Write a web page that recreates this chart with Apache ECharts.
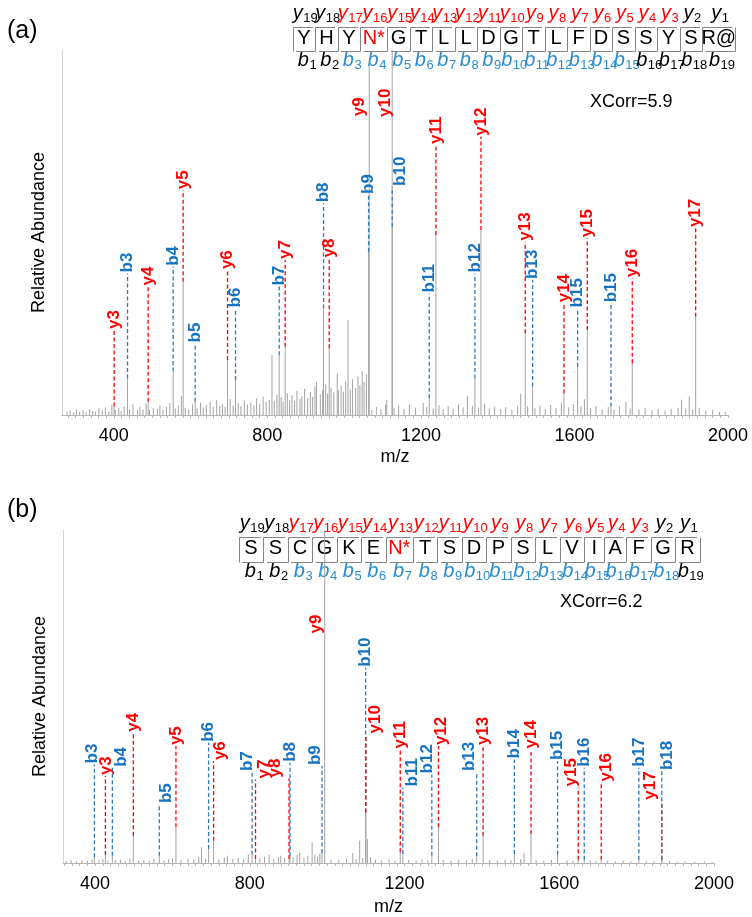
<!DOCTYPE html>
<html>
<head>
<meta charset="utf-8">
<script src="https://cdn.jsdelivr.net/npm/echarts@6/dist/echarts.min.js"></script>
<style>
  html, body { margin: 0; padding: 0; background: #fff; }
  #main { width: 752px; height: 917px; }
</style>
</head>
<body>
<div id="main"></div>
<script>
// ---------- data ----------
const tickLabels = [400, 800, 1200, 1600, 2000];

// peptide sequences
const seqA = ['Y','H','Y','N*','G','T','L','L','D','G','T','L','F','D','S','S','Y','S','R@'];
const seqB = ['S','S','C','G','K','E','N*','T','S','D','P','S','L','V','I','A','F','G','R'];

// panel (a) annotated fragment ions
const ionNameA = ['y3','b3','y4','b4','y5','b5','y6','b6','b7','y7','b8','y8','b9','y9','b10','y10','b11','y11','b12','y12','y13','b13','y14','b15','y15','b15','y16','y17'];
const ionMzA   = [400.8,435.7,489.5,554.6,580.6,611.9,696.3,717.1,830.8,846.4,946.4,961.1,1063.7,1065.3,1125.2,1125.2,1221.7,1239.1,1340.7,1356.4,1471.8,1491.0,1572.6,1608.3,1633.4,1695.1,1750.6,1915.8];
const ionIntA  = [2.3,10.0,3.6,11.9,36.5,3.6,15.1,9.6,16.4,18.7,29.2,18.3,44.7,97,51.6,100,4.6,49.3,10.0,50.7,22.4,7.8,5.9,13.2,23.3,2.3,14.2,26.9];
const ionLabA  = [23.3,38.8,35.2,40.6,61.6,19.6,39.7,29.2,35.2,42.5,58.0,42.9,60.3,81.6,62.5,81.4,33.3,74.0,38.8,76.2,47.5,37.0,30.6,29.2,48.4,30.6,37.5,51.2];

// panel (b) annotated fragment ions
const ionNameB = ['b3','y3','b4','y4','b5','y5','b6','y6','b7','y7','y8','b8','b9','y9','b10','y10','y11','b11','b12','y12','b13','y13','b14','y14','b15','y15','b16','y16','b17','y17','b18'];
const ionMzB   = [398.2,426.6,444.6,498.8,565.9,609.0,693.4,706.3,805.9,814.7,901.4,904.0,986.6,993.5,1099.4,1100.0,1188.9,1195.6,1270.5,1287.7,1386.6,1403.1,1483.9,1527.0,1595.6,1649.0,1664.5,1708.4,1805.7,1865.0,1865.0];
const ionIntB  = [1.7,2.4,2.2,8.2,2.2,10.7,4.2,6.7,2.5,1.2,1.2,2.0,3.0,100,15.2,15.2,3.2,2.7,2.2,10.7,2.0,8.2,2.7,8.7,2.5,1.0,1.0,1.0,1.0,1.0,1.0];
const ionLabB  = [29.6,26.1,28.6,39.1,17.7,35.1,36.1,30.6,27.3,25.1,25.4,30.1,29.1,68.6,58.6,38.6,34.1,22.7,26.6,35.1,27.3,35.1,31.1,34.1,30.6,22.7,28.6,24.2,28.6,18.7,27.6];

// unlabeled peaks [m/z, relative abundance]
const otherPeaksA = [[278,0.8],[286,1.2],[295,0.7],[303,1.5],[311,0.9],[320,1.3],[328,0.8],[337,1.6],[345,1.1],[352,0.9],[361,1.8],[370,1.2],[378,2.1],[387,1.0],[395,2.8],[404,1.4],[413,1.9],[419,1.1],[427,2.4],[441,1.5],[450,2.9],[462,1.3],[468,2.2],[476,1.6],[484,3.1],[493,1.4],[503,2.0],[514,1.7],[520,2.6],[528,1.5],[537,2.3],[546,3.3],[560,1.8],[568,2.7],[576,5.2],[586,2.0],[595,1.6],[605,2.9],[617,1.8],[626,3.4],[633,2.1],[641,2.8],[651,3.6],[659,2.2],[668,4.1],[676,2.5],[683,3.0],[690,2.2],[703,4.4],[711,2.6],[724,3.2],[731,2.4],[740,4.0],[748,2.9],[757,3.5],[765,2.7],[772,4.6],[780,3.1],[789,5.0],[797,3.6],[805,4.2],[812,16.4],[818,3.9],[825,5.5],[836,4.8],[841,3.7],[852,6.0],[858,4.1],[864,5.4],[871,3.8],[877,6.6],[885,4.4],[890,5.1],[897,7.2],[905,4.6],[912,6.3],[918,5.0],[924,7.8],[928,9.1],[938,5.7],[944,6.9],[952,8.4],[957,5.9],[966,7.5],[973,6.2],[982,11.4],[985,6.8],[992,8.0],[998,6.4],[1004,9.2],[1010,26.0],[1016,7.0],[1022,9.8],[1030,7.4],[1036,10.6],[1041,8.2],[1047,12.0],[1052,9.0],[1058,11.2],[1072,1.4],[1084,2.2],[1096,1.6],[1108,2.8],[1111,4.2],[1130,1.9],[1142,2.6],[1156,1.7],[1170,2.9],[1186,2.0],[1206,3.3],[1215,2.2],[1232,1.8],[1247,2.7],[1258,1.6],[1271,2.4],[1284,1.7],[1298,2.9],[1310,2.1],[1321,5.3],[1334,2.5],[1350,2.0],[1366,3.1],[1378,1.8],[1392,2.3],[1408,1.6],[1421,2.2],[1437,1.5],[1452,2.6],[1460,5.8],[1478,2.4],[1497,1.9],[1510,2.6],[1524,1.7],[1538,2.8],[1552,1.9],[1566,3.4],[1585,2.1],[1597,3.0],[1617,2.4],[1626,4.3],[1642,1.9],[1656,2.5],[1672,1.6],[1688,2.2],[1703,1.5],[1717,2.4],[1734,3.6],[1745,1.8],[1768,1.5],[1784,1.9],[1802,1.3],[1818,1.7],[1836,1.2],[1852,1.6],[1870,2.0],[1879,4.2],[1890,1.8],[1899,5.1],[1908,1.5],[1925,1.9],[1942,1.1],[1960,1.4],[1978,0.9],[1993,0.8]];
const otherPeaksB = [[325,0.6],[338,0.9],[352,0.5],[366,0.8],[380,0.7],[392,1.0],[410,0.8],[420,1.2],[433,0.7],[452,0.9],[466,1.1],[478,0.6],[490,1.3],[512,0.8],[526,1.0],[540,0.7],[552,1.2],[578,0.8],[590,1.1],[600,1.4],[622,0.9],[640,1.2],[655,1.0],[668,1.9],[675,4.7],[686,1.3],[720,1.1],[734,1.6],[742,2.2],[756,1.2],[770,1.5],[784,1.1],[796,2.6],[826,1.4],[838,1.9],[850,2.5],[862,1.3],[874,1.8],[880,2.2],[890,1.5],[912,1.7],[922,2.4],[929,3.0],[940,1.6],[950,2.2],[961,6.3],[968,2.5],[975,1.9],[981,2.8],[1010,1.0],[1030,0.8],[1050,1.1],[1066,3.0],[1075,1.2],[1084,6.7],[1092,1.5],[1104,7.2],[1112,1.8],[1125,1.0],[1140,0.8],[1160,1.1],[1175,0.7],[1210,0.9],[1230,0.8],[1245,1.1],[1260,0.7],[1300,0.9],[1320,0.7],[1340,1.0],[1360,0.8],[1375,1.2],[1420,0.9],[1440,0.7],[1460,1.0],[1475,0.8],[1500,1.2],[1509,3.0],[1540,0.9],[1560,0.7],[1580,0.9],[1620,0.8],[1635,0.6],[1680,0.8],[1695,0.6],[1725,0.7],[1745,0.5],[1765,0.7],[1785,0.5],[1825,0.6],[1845,0.5],[1885,0.6],[1905,0.4],[1925,0.5],[1950,0.4],[1975,0.5],[1995,0.4]];

// ---------- layout nudges for crowded labels (px) ----------
const labelShiftA = [0,0,0,0,0,0,0,0,0,0,0,0,0,-10,8,-7,0,0,0,0,0,0,0,0,0,0,0,0];
const labelShiftB = [-2,1,9,0,7,0,0,7,-5,9,-14,0,-7,-8,0,9,0,9,-5,3,-7,0,0,0,0,-7,0,5,0,-11,6];

const FONT = '"Liberation Sans", Arial, sans-serif';
const RED = '#ff0000', BLUE = '#1673c2', DASH_BLUE = '#2f78bd', HEAD_BLUE = '#2b8dcc', GRAY = '#a3a3a3';

const chart = echarts.init(document.getElementById('main'));

// vertical sticks for all peaks
function peakSeries(idx, others, mzs, ints) {
  const data = others.concat(mzs.map((m, i) => [m, ints[i]]));
  return {
    type: 'custom', xAxisIndex: idx, yAxisIndex: idx, data: data, silent: true, z: 2,
    renderItem: function (params, api) {
      const a = api.coord([api.value(0), 0]);
      const b = api.coord([api.value(0), api.value(1)]);
      return { type: 'line', shape: { x1: a[0], y1: a[1], x2: b[0], y2: b[1] },
        style: { stroke: GRAY, lineWidth: 1 } };
    }
  };
}

// dashed lead lines + rotated ion labels
function ionSeries(idx, names, mzs, ints, labs, shifts) {
  const data = mzs.map((m, i) => [m, ints[i], labs[i], shifts[i]]);
  return {
    type: 'custom', xAxisIndex: idx, yAxisIndex: idx, data: data, silent: true, z: 3,
    renderItem: function (params, api) {
      const name = names[params.dataIndex];
      const isY = name[0] === 'y';
      const top = api.coord([api.value(0), api.value(1)]);
      const lab = api.coord([api.value(0), api.value(2)]);
      const children = [];
      if (api.value(2) > api.value(1)) {
        children.push({ type: 'line', shape: { x1: top[0], y1: top[1], x2: lab[0], y2: lab[1] },
          style: { stroke: isY ? RED : DASH_BLUE, lineWidth: 1.3, lineDash: [4, 2.5] } });
      }
      children.push({ type: 'text', x: lab[0] + api.value(3), y: lab[1] - 1, rotation: Math.PI / 2,
        style: { text: name, fill: isY ? RED : BLUE, font: 'bold 17px ' + FONT,
          textAlign: 'left', textVerticalAlign: 'middle', align: 'left', verticalAlign: 'middle' } });
      return { type: 'group', children: children };
    }
  };
}

function xAxis(idx, min, max, gap) {
  const ticks = [];
  for (let v = Math.ceil(min / 20) * 20; v <= max; v += 20) ticks.push(v);
  return {
    type: 'value', gridIndex: idx, min: min, max: max,
    name: 'm/z', nameLocation: 'middle', nameGap: gap,
    nameTextStyle: { fontSize: 18, color: '#000', fontFamily: FONT },
    axisLine: { lineStyle: { color: '#b5b5b5', width: 1 } },
    axisTick: { show: true, customValues: ticks, length: 3, lineStyle: { color: '#b5b5b5' } },
    axisLabel: { customValues: tickLabels, fontSize: 18, color: '#000', fontFamily: FONT, margin: 12,
      formatter: v => String(v) },
    splitLine: { show: false }
  };
}

function yAxis(idx) {
  return {
    type: 'value', gridIndex: idx, min: 0, max: 100,
    name: 'Relative Abundance', nameLocation: 'middle', nameGap: 14,
    nameTextStyle: { fontSize: 18, color: '#000', fontFamily: FONT },
    axisLine: { show: true, lineStyle: { color: '#d3d3d3' } },
    axisTick: { show: false }, axisLabel: { show: false }, splitLine: { show: false }
  };
}

// ---------- sequence header ----------
const ctx = document.createElement('canvas').getContext('2d');
function textW(font, s) { ctx.font = font; return ctx.measureText(s).width; }

function ionTag(letter, num, cx, y, color) {
  const mf = 'italic 20px ' + FONT, sf = '13px ' + FONT;
  const w1 = textW(mf, letter), w2 = textW(sf, String(num));
  const left = cx - (w1 + w2) / 2;
  return [
    { type: 'text', x: left, y: y, style: { text: letter, font: mf, fill: color, textAlign: 'left', textVerticalAlign: 'middle' } },
    { type: 'text', x: left + w1 + 0.5, y: y + 5, style: { text: String(num), font: sf, fill: color, textAlign: 'left', textVerticalAlign: 'middle' } }
  ];
}

function header(seq, cfg) {
  const els = [];
  const edges = [cfg.x0];
  seq.forEach(r => edges.push(edges[edges.length - 1] + (cfg.widths[r] || cfg.w)));
  const n = seq.length;
  seq.forEach((r, i) => {
    const cx = (edges[i] + edges[i + 1]) / 2;
    els.push({ type: 'text', x: cx, y: cfg.yRes, style: { text: r, font: '20px ' + FONT,
      fill: r === 'N*' ? RED : '#000', textAlign: 'center', textVerticalAlign: 'middle' } });
    const ky = n - i, kb = i + 1;
    const yObs = ky >= cfg.yObs[0] && ky <= cfg.yObs[1];
    const bObs = kb >= cfg.bObs[0] && kb <= cfg.bObs[1];
    ionTag('y', ky, cx + 1, cfg.yIon, yObs ? RED : '#000').forEach(e => els.push(e));
    ionTag('b', kb, cx + 3, cfg.yB, bObs ? HEAD_BLUE : '#000').forEach(e => els.push(e));
  });
  for (let j = 0; j <= n; j++) {
    const x = Math.round(edges[j]) + 0.5;
    const pts = [];
    if (j > 0) pts.push([x - (edges[j] - edges[j - 1]) + 3, cfg.bottom]);
    pts.push([x, cfg.bottom], [x, cfg.top]);
    if (j < n) pts.push([x + (edges[j + 1] - edges[j]) - 3, cfg.top]);
    els.push({ type: 'polyline', shape: { points: pts }, style: { stroke: '#858585', fill: null, lineWidth: 1 } });
  }
  return els;
}

const headA = header(seqA, { x0: 292.75, w: 22.5, widths: { 'N*': 27, 'R@': 33 },
  yIon: 13, yRes: 38.5, yB: 60, top: 27.5, bottom: 51.5, yObs: [3, 17], bObs: [3, 15] });
const headB = header(seqB, { x0: 238.75, w: 24.5, widths: { 'N*': 27, 'I': 20, 'A': 22 },
  yIon: 523, yRes: 548.5, yB: 571, top: 537.5, bottom: 562.5, yObs: [3, 17], bObs: [3, 18] });

const plainText = (t, x, y, size) => ({ type: 'text', x: x, y: y,
  style: { text: t, font: size + 'px ' + FONT, fill: '#000', textAlign: 'left', textVerticalAlign: 'middle' } });

const option = {
  animation: false,
  backgroundColor: '#fff',
  grid: [
    { left: 62, right: 24, top: 50, height: 365 },
    { left: 63, right: 38, top: 530, height: 334 }
  ],
  xAxis: [xAxis(0, 265, 2000, 33), xAxis(1, 317, 2000, 35)],
  yAxis: [yAxis(0), yAxis(1)],
  series: [
    peakSeries(0, otherPeaksA, ionMzA, ionIntA),
    ionSeries(0, ionNameA, ionMzA, ionIntA, ionLabA, labelShiftA),
    peakSeries(1, otherPeaksB, ionMzB, ionIntB),
    ionSeries(1, ionNameB, ionMzB, ionIntB, ionLabB, labelShiftB)
  ],
  graphic: [
    plainText('(a)', 7, 31, 25),
    plainText('(b)', 7, 510, 25),
    plainText('XCorr=5.9', 590, 102, 18),
    plainText('XCorr=6.2', 560, 602, 18)
  ].concat(headA, headB)
};

chart.setOption(option);
</script>
</body>
</html>
